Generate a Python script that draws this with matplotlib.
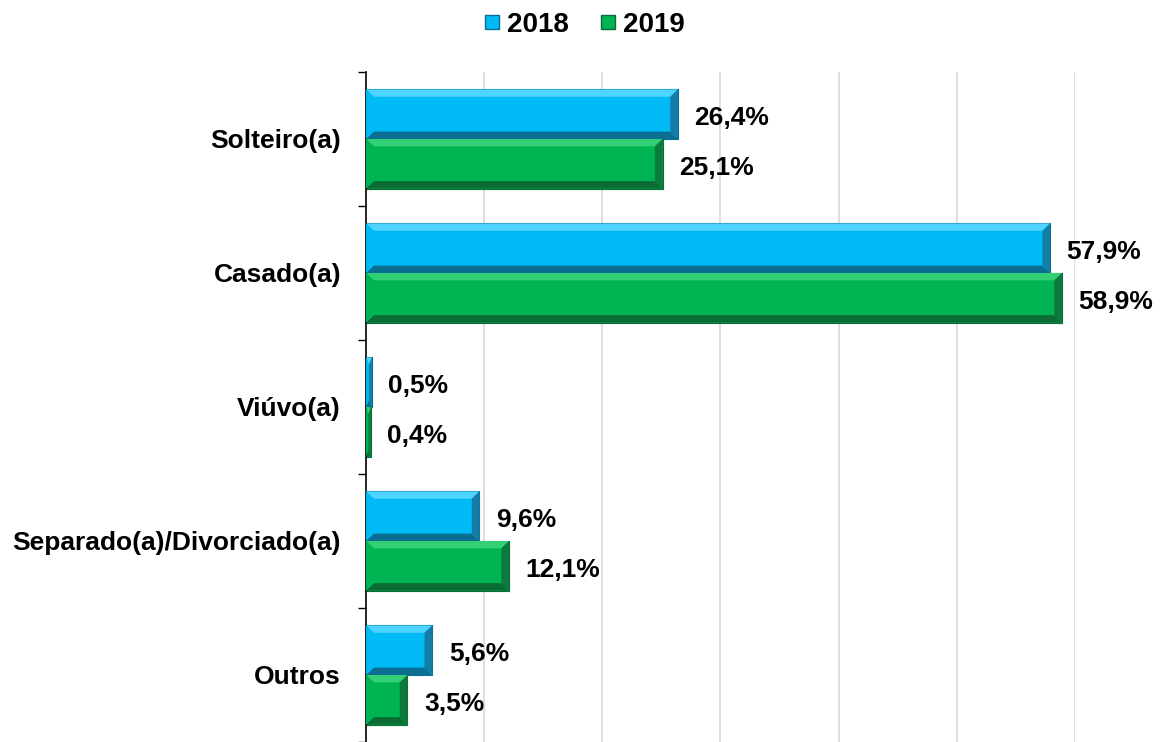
import numpy as np
import matplotlib.pyplot as plt
from matplotlib.patches import Polygon
from matplotlib.lines import Line2D

plt.rcParams['font.family'] = ['Liberation Sans', 'DejaVu Sans']

categories = ['Solteiro(a)', 'Casado(a)', 'Viúvo(a)', 'Separado(a)/Divorciado(a)', 'Outros']
v2018 = [26.4, 57.9, 0.5, 9.6, 5.6]
v2019 = [25.1, 58.9, 0.4, 12.1, 3.5]
series = ['2018', '2019']

col_main = ['#00BAF5', '#00B454']
col_light = ['#4FD3FF', '#33CF75']
col_dark = ['#0A6E93', '#0A6B35']
col_side = ['#137DA5', '#0B7A3C']

fig = plt.figure(figsize=(11.65, 7.42), dpi=100)
ax = fig.add_axes([0.3142, 0.0, 0.6085, 0.903])

ypos = np.arange(len(categories))
h = 0.37
off = 0.185


def bevel(ax, x0, x1, yc, hh, k):
    # flat face plus four edge strips to fake the excel bevel
    y0, y1 = yc - hh / 2, yc + hh / 2
    bx = min(0.65, (x1 - x0) / 2)
    by = 0.055
    top = [(x0, y0), (x1, y0), (x1 - bx, y0 + by), (x0 + bx, y0 + by)]
    bot = [(x0, y1), (x1, y1), (x1 - bx, y1 - by), (x0 + bx, y1 - by)]
    left = [(x0, y0), (x0 + bx, y0 + by), (x0 + bx, y1 - by), (x0, y1)]
    right = [(x1, y0), (x1 - bx, y0 + by), (x1 - bx, y1 - by), (x1, y1)]
    ax.add_patch(Polygon(top, closed=True, fc=col_light[k], ec='none', zorder=3))
    ax.add_patch(Polygon(bot, closed=True, fc=col_dark[k], ec='none', zorder=3))
    ax.add_patch(Polygon(left, closed=True, fc=col_main[k], ec='none', zorder=3))
    ax.add_patch(Polygon(right, closed=True, fc=col_side[k], ec='none', zorder=3))


for k, vals in enumerate([v2018, v2019]):
    yy = ypos + (-off if k == 0 else off)
    bars = ax.barh(yy, vals, height=h, color=col_main[k], edgecolor=col_dark[k],
                   linewidth=0.8, zorder=2)
    for b, v, y in zip(bars, vals, yy):
        bevel(ax, 0, v, y, h, k)
        ax.text(v + 1.4, y + 0.03, f'{v:.1f}%'.replace('.', ','), va='center', ha='left',
                fontsize=19, fontweight='bold', zorder=4)

ax.set_xlim(0, 60)
ax.set_ylim(len(categories) - 0.5, -0.5)
ax.set_xticks(np.arange(10, 61, 10))
ax.xaxis.grid(True, color='#D9D9D9', linewidth=1.2, zorder=0)
ax.set_axisbelow(True)
ax.tick_params(axis='x', length=0, labelbottom=False)

ax.set_yticks(ypos)
ax.set_yticklabels(categories, fontsize=19, fontweight='bold')
ax.set_yticks(np.arange(-0.5, len(categories), 1), minor=True)
ax.tick_params(axis='y', which='major', length=0, pad=18)
ax.tick_params(axis='y', which='minor', length=6, width=1, color='black')

for s in ['top', 'right', 'bottom']:
    ax.spines[s].set_visible(False)
ax.spines['left'].set_color('black')
ax.spines['left'].set_linewidth(1.2)

handles = [Line2D([], [], marker='s', linestyle='none', markersize=10,
                  markerfacecolor=col_main[k], markeredgecolor=col_dark[k])
           for k in range(2)]
fig.legend(handles, series, loc='upper center', bbox_to_anchor=(0.5, 1.018), ncol=2,
           frameon=False, prop={'size': 20, 'weight': 'bold'},
           handlelength=0.8, handletextpad=0.15, columnspacing=1.0)

fig.savefig('out.png', dpi=100)
